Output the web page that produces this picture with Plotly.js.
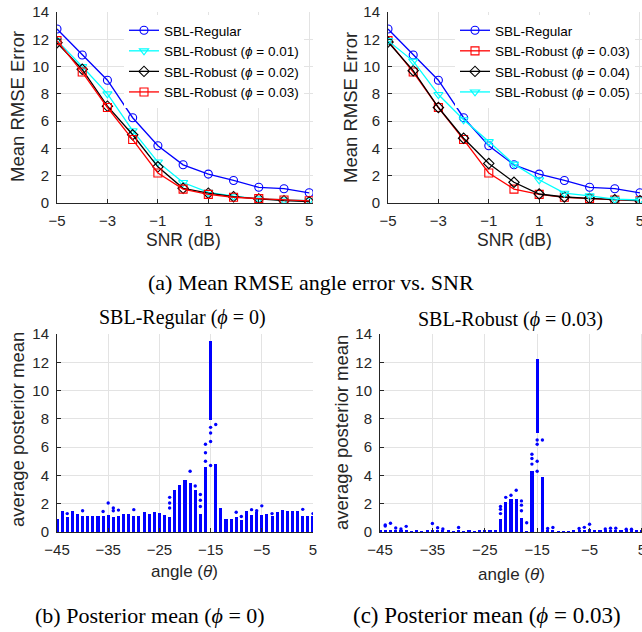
<!DOCTYPE html>
<html>
<head>
<meta charset="utf-8">
<script src="https://cdn.plot.ly/plotly-3.0.1.min.js"></script>
<style>html,body{margin:0;padding:0;background:#fff;overflow:hidden;}#chart{width:680px;height:632px;}</style>
</head>
<body>
<div id="chart"></div>
<script>
// ---------- Data: (a) Mean RMSE vs SNR ----------
const snr = [-5, -4, -3, -2, -1, 0, 1, 2, 3, 4, 5];
const regular = [12.75, 10.85, 9.0, 6.25, 4.2, 2.8, 2.12, 1.65, 1.15, 1.05, 0.75];
const rob001 = [11.9, 10.0, 8.0, 5.3, 3.0, 1.5, 0.78, 0.5, 0.3, 0.22, 0.17];
const rob002 = [11.75, 9.8, 7.1, 5.0, 2.65, 1.08, 0.72, 0.46, 0.3, 0.17, 0.1];
const rob003 = [11.9, 9.6, 7.0, 4.65, 2.2, 1.02, 0.63, 0.42, 0.32, 0.22, 0.16];
const rob004 = [11.8, 9.7, 7.0, 4.75, 2.9, 1.52, 0.66, 0.44, 0.34, 0.24, 0.17];
const rob005 = [11.9, 10.4, 7.95, 6.1, 4.5, 2.85, 1.7, 0.72, 0.52, 0.28, 0.22];
const snrTicks = [-5, -3, -1, 1, 3, 5];

// ---------- Data: (b),(c) posterior mean per angle ----------
const angles = [-45,-44,-43,-42,-41,-40,-39,-38,-37,-36,-35,-34,-33,-32,-31,-30,-29,-28,-27,-26,-25,-24,-23,-22,-21,-20,-19,-18,-17,-16,-15,-14,-13,-12,-11,-10,-9,-8,-7,-6,-5,-4,-3,-2,-1,0,1,2,3,4,5];
// dense column tops, SBL-Regular
const regTop = [0.9,1.5,1.05,1.45,1.27,1.1,1.1,1.1,1.1,1.1,1.2,1.05,1.1,1.3,1.3,1.1,1.1,1.4,1.3,1.4,1.35,1.2,1.05,3.0,3.35,3.7,3.5,3.0,1.3,4.6,13.5,4.8,1.7,0.95,0.95,1.05,0.85,1.5,1.2,1.4,1.2,1.27,1.1,1.4,1.55,1.45,1.5,1.45,1.1,1.1,1.1];
const regPeakAngle = -15;
const regPeakLow = 7.9;
const regOutX = [-43,-40,-36,-35,-34,-34,-33,-30,-23,-23,-23,-19,-18,-17,-17,-17,-16,-16,-16,-15,-15,-15,-15,-14,-10,-9,-7,-6,-5,-3,3,5];
const regOutY = [1.3,1.5,1.45,2.05,1.5,1.7,1.55,1.58,1.7,2.05,2.45,4.3,3.25,1.8,2.25,2.65,5.0,5.6,6.2,7.4,7.0,6.4,4.7,7.6,1.4,1.1,1.58,1.5,1.85,1.3,1.6,1.3];
// dense column tops, SBL-Robust (phi = 0.03)
const robTop = [0.15,0.15,0.15,0.12,0.12,0.15,0.1,0.12,0.1,0.15,0.15,0.12,0.12,0.12,0.1,0.12,0.1,0.12,0.1,0.15,0.12,0.15,0.12,0.9,2.15,2.35,2.3,1.0,0.1,4.3,12.2,3.9,0.12,0.15,0.1,0.1,0.1,0.12,0.15,0.15,0.2,0.12,0.12,0.15,0.15,0.15,0.12,0.15,0.12,0.12,0.15];
const robPeakAngle = -15;
const robPeakLow = 7.0;
const robOutX = [-44,-44,-43,-42,-41,-40,-35,-34,-33,-30,-22,-22,-22,-21,-20,-19,-18,-18,-18,-17,-16,-16,-16,-15,-15,-15,-15,-14,-13,-12,-7,-6,-5,-2,-1,0,2,3];
const robOutY = [0.5,0.42,0.62,0.28,0.22,0.4,0.6,0.3,0.22,0.32,1.3,1.6,1.8,2.45,2.6,2.95,1.5,1.9,2.2,0.65,4.8,5.2,5.5,6.5,6.2,5.0,4.3,6.5,0.25,0.32,0.25,0.33,0.55,0.22,0.26,0.26,0.2,0.2];
const angTicks = [-45, -35, -25, -15, -5, 5];
const yTicks = [0, 2, 4, 6, 8, 10, 12, 14];

// ---------- helpers ----------
const W = 680, H = 632;
const fx = p => p / W;
const fy = p => 1 - p / H;
const BLUE = '#0000ff', CYAN = '#00ffff', RED = '#ff0000', BLACK = '#000000';
const SANS = 'Liberation Sans, Arial, sans-serif';
const SERIF = 'Liberation Serif, Times New Roman, serif';

function lineTrace(y, name, color, symbol, xa, ya, leg) {
  return {type: 'scatter', mode: 'lines+markers', x: snr, y: y, name: name,
    xaxis: xa, yaxis: ya, legend: leg,
    line: {color: color, width: 1.3},
    marker: {symbol: symbol, size: 8, color: color, line: {color: color, width: 1.1}}};
}
function colBars(top, peakA, peakLow, xa, ya) {
  const base = angles.map(a => a === peakA ? peakLow : 0);
  const len = top.map((t, i) => t - base[i]);
  return {type: 'bar', x: angles, y: len, base: base, xaxis: xa, yaxis: ya,
    width: 0.6, marker: {color: BLUE, line: {width: 0}}, showlegend: false, hoverinfo: 'skip'};
}
function outPts(xs, ys, xa, ya) {
  return {type: 'scatter', mode: 'markers', x: xs, y: ys, xaxis: xa, yaxis: ya,
    marker: {color: BLUE, size: 3.4, symbol: 'circle'}, showlegend: false, hoverinfo: 'skip'};
}

const phi = '<i>ϕ</i>';
const traces = [
  lineTrace(regular, 'SBL-Regular', BLUE, 'circle-open', 'x', 'y', 'legend'),
  lineTrace(rob001, 'SBL-Robust (' + phi + ' = 0.01)', CYAN, 'triangle-down-open', 'x', 'y', 'legend'),
  lineTrace(rob002, 'SBL-Robust (' + phi + ' = 0.02)', BLACK, 'diamond-open', 'x', 'y', 'legend'),
  lineTrace(rob003, 'SBL-Robust (' + phi + ' = 0.03)', RED, 'square-open', 'x', 'y', 'legend'),
  lineTrace(regular, 'SBL-Regular', BLUE, 'circle-open', 'x2', 'y2', 'legend2'),
  lineTrace(rob003, 'SBL-Robust (' + phi + ' = 0.03)', RED, 'square-open', 'x2', 'y2', 'legend2'),
  lineTrace(rob004, 'SBL-Robust (' + phi + ' = 0.04)', BLACK, 'diamond-open', 'x2', 'y2', 'legend2'),
  lineTrace(rob005, 'SBL-Robust (' + phi + ' = 0.05)', CYAN, 'triangle-down-open', 'x2', 'y2', 'legend2'),
  colBars(regTop, regPeakAngle, regPeakLow, 'x3', 'y3'),
  outPts(regOutX, regOutY, 'x3', 'y3'),
  colBars(robTop, robPeakAngle, robPeakLow, 'x4', 'y4'),
  outPts(robOutX, robOutY, 'x4', 'y4')
];

function ax(extra) {
  return Object.assign({
    showline: true, linecolor: '#262626', linewidth: 1, mirror: false,
    ticks: 'inside', ticklen: 4, tickcolor: '#262626', tickwidth: 1,
    showgrid: true, gridcolor: '#e3e3e3', gridwidth: 1, zeroline: false,
    tickfont: {family: SANS, size: 15, color: '#262626'},
    tickmode: 'array', fixedrange: true, ticklabelstandoff: 4
  }, extra);
}

const topY = [fy(203), fy(12)];
const botY = [fy(532), fy(334)];
const legendStyle = {bgcolor: '#ffffff', borderwidth: 0, font: {family: SANS, size: 13.5, color: '#000'},
  xanchor: 'left', yanchor: 'top', tracegroupgap: 0};

function ann(text, x, y, size, family, angle) {
  return {text: text, x: fx(x), y: fy(y), xref: 'paper', yref: 'paper', showarrow: false,
    xanchor: 'center', yanchor: 'middle', textangle: angle || 0,
    font: {family: family, size: size, color: family === SERIF ? '#000' : '#262626'}};
}

const layout = {
  width: W, height: H, margin: {l: 0, r: 0, t: 0, b: 0},
  paper_bgcolor: '#fff', plot_bgcolor: '#fff', showlegend: true, bargap: 0,
  xaxis: ax({domain: [fx(57), fx(313)], range: [-5, 5.15], tickvals: snrTicks, anchor: 'y'}),
  yaxis: ax({domain: topY, range: [0, 14], tickvals: yTicks, anchor: 'x'}),
  xaxis2: ax({domain: [fx(388), fx(644)], range: [-5, 5.16], tickvals: snrTicks, anchor: 'y2'}),
  yaxis2: ax({domain: topY, range: [0, 14], tickvals: yTicks, anchor: 'x2'}),
  xaxis3: ax({domain: [fx(57), fx(313)], range: [-45, 5], tickvals: angTicks, anchor: 'y3'}),
  yaxis3: ax({domain: botY, range: [0, 14], tickvals: yTicks, anchor: 'x3'}),
  xaxis4: ax({domain: [fx(380), fx(643)], range: [-45, 5.2], tickvals: angTicks, anchor: 'y4'}),
  yaxis4: ax({domain: botY, range: [0, 14], tickvals: yTicks, anchor: 'x4'}),
  legend: Object.assign({x: fx(124), y: fy(15)}, legendStyle),
  legend2: Object.assign({x: fx(455), y: fy(15)}, legendStyle),
  annotations: [
    ann('Mean RMSE Error', 17, 107, 18.5, SANS, -90),
    ann('Mean RMSE Error', 350, 107, 18.5, SANS, -90),
    ann('SNR (dB)', 183, 240, 17.5, SANS),
    ann('SNR (dB)', 514, 240, 17.5, SANS),
    ann('average posterior mean', 17, 430, 18.5, SANS, -90),
    ann('average posterior mean', 341, 433, 18.5, SANS, -90),
    ann('angle (<i>θ</i>)', 185, 571, 17, SANS),
    ann('angle (<i>θ</i>)', 511, 574, 17, SANS),
    ann('SBL-Regular (<i>ϕ</i> = 0)', 182, 317, 20, SERIF),
    ann('SBL-Robust (<i>ϕ</i> = 0.03)', 510, 319, 20, SERIF),
    ann('(a) Mean RMSE angle error vs. SNR', 311, 283, 22, SERIF),
    ann('(b) Posterior mean (<i>ϕ</i> = 0)', 150, 615, 22, SERIF),
    ann('(c) Posterior mean (<i>ϕ</i> = 0.03)', 487, 615, 23, SERIF)
  ]
};

Plotly.newPlot('chart', traces, layout, {displayModeBar: false, staticPlot: true});
</script>
</body>
</html>
